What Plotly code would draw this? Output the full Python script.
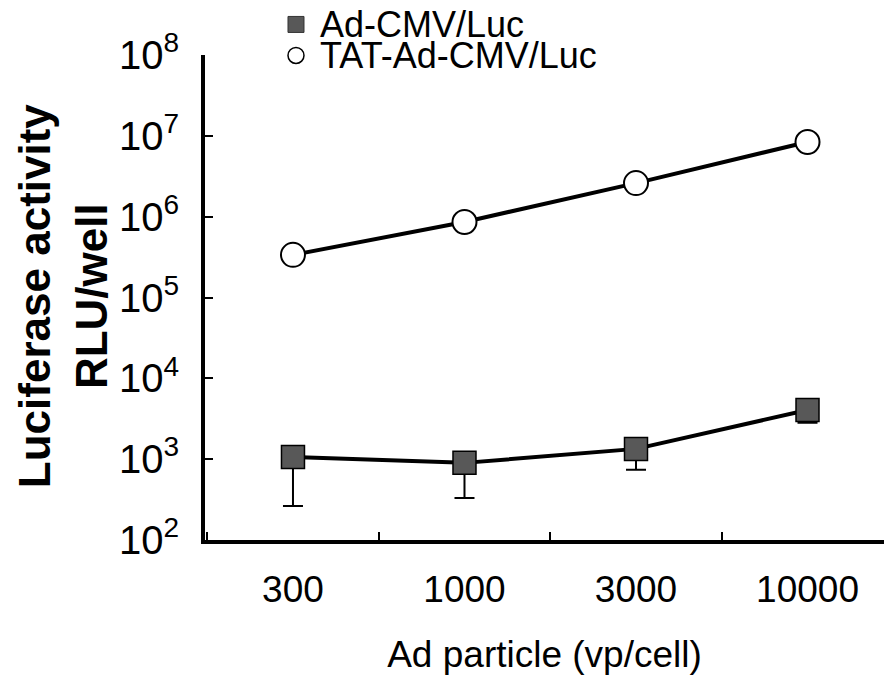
import plotly.graph_objects as go

categories = ["300", "1000", "3000", "10000"]
ad_cmv = [1065, 900, 1340, 4060]
ad_cmv_err_minus = [802, 569, 600, 1240]
tat_ad_cmv = [337000, 860000, 2600000, 8400000]
ytick_vals = [1e2, 1e3, 1e4, 1e5, 1e6, 1e7, 1e8]
ytick_text = ["10<sup>%d</sup>" % k for k in range(2, 9)]
legend_names = ["Ad-CMV/Luc", "TAT-Ad-CMV/Luc"]

FONT = "Liberation Sans, Arial, sans-serif"

fig = go.Figure()

fig.add_trace(go.Scatter(
    x=categories, y=ad_cmv, mode="lines+markers", name=legend_names[0],
    showlegend=False,
    line=dict(color="black", width=4),
    marker=dict(symbol="square", size=23, color="#585858",
                line=dict(color="black", width=1.5)),
    error_y=dict(type="data", symmetric=False, array=[0, 0, 0, 0],
                 arrayminus=ad_cmv_err_minus, color="black",
                 thickness=2, width=10),
))
fig.add_trace(go.Scatter(
    x=categories, y=tat_ad_cmv, mode="lines+markers", name=legend_names[1],
    showlegend=False,
    line=dict(color="black", width=4),
    marker=dict(symbol="circle", size=24, color="white",
                line=dict(color="black", width=2)),
))

# legend drawn as shapes + text (tight row spacing like the reference)
leg_x = 0.134
leg_rows = [1.063, 0.999]
fig.add_shape(type="rect", xref="paper", yref="paper",
              xsizemode="pixel", ysizemode="pixel",
              xanchor=leg_x, yanchor=leg_rows[0],
              x0=-8, x1=8, y0=-8, y1=8,
              fillcolor="#585858", line=dict(color="#333333", width=1))
fig.add_shape(type="circle", xref="paper", yref="paper",
              xsizemode="pixel", ysizemode="pixel",
              xanchor=leg_x, yanchor=leg_rows[1],
              x0=-8, x1=8, y0=-8, y1=8,
              fillcolor="white", line=dict(color="black", width=1.5))

annotations = []
for name, yy in zip(legend_names, leg_rows):
    annotations.append(dict(
        text=name, xref="paper", yref="paper", x=0.1664, y=yy,
        xanchor="left", yanchor="middle", showarrow=False,
        font=dict(size=36, family=FONT, color="black"),
    ))
annotations.append(dict(
    text="<b>Luciferase activity<br>RLU/well</b>",
    xref="paper", yref="paper", x=-0.209, y=0.503,
    xanchor="center", yanchor="middle", textangle=-90,
    showarrow=False, font=dict(size=44, family=FONT, color="black"),
))

fig.update_layout(
    width=884, height=676,
    margin=dict(l=205, r=0, t=55, b=136, autoexpand=False),
    plot_bgcolor="white", paper_bgcolor="white",
    font=dict(family=FONT, color="black", size=30),
    showlegend=False,
    xaxis=dict(
        type="category", range=[-0.513, 3.446],
        showline=True, linecolor="black", linewidth=4,
        ticks="inside", ticklen=8, tickwidth=2, tickcolor="black",
        tickson="boundaries", showgrid=False, automargin=False,
        tickfont=dict(size=37), ticklabelstandoff=14,
        title=dict(text="Ad particle (vp/cell)", font=dict(size=37), standoff=33),
    ),
    yaxis=dict(
        type="log", range=[2, 8],
        tickvals=ytick_vals, ticktext=ytick_text,
        showline=True, linecolor="black", linewidth=4,
        ticks="inside", ticklen=8, tickwidth=2, tickcolor="black",
        showgrid=False, zeroline=False, automargin=False,
        tickfont=dict(size=40), ticklabelstandoff=14,
    ),
    annotations=annotations,
)

# remove the page's default 8px body margin so the figure fills the window
fig.write_html("out.html", config={"displayModeBar": False},
               post_script="document.body.style.margin='0';")
